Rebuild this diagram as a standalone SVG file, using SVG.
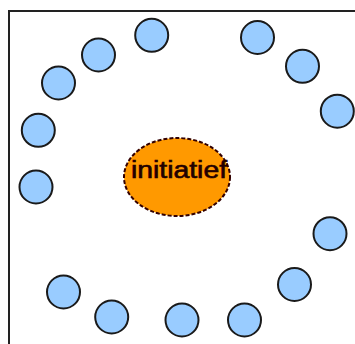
<svg xmlns="http://www.w3.org/2000/svg" width="355" height="344" viewBox="0 0 355 344">
<style>
.n{fill:#99CCFF;stroke:#1a1a1a;stroke-width:2}
.frame{fill:none;stroke:#222;stroke-width:2}
.c{fill:#FF9900;stroke:#330000;stroke-width:2;stroke-dasharray:4 2}
.t{font-family:"Liberation Sans",Arial,sans-serif;font-size:23px;fill:#220000;stroke:#220000;stroke-width:0.6}
</style>
<rect width="355" height="344" fill="#ffffff"/>
<rect class="frame" x="9" y="11" width="360" height="350"/>
<g id="connectors"></g>
<g id="center"><ellipse class="c" cx="177" cy="177" rx="53" ry="39"/><text class="t" x="179" y="178" text-anchor="middle" textLength="96" lengthAdjust="spacingAndGlyphs">initiatief</text></g>
<g id="n1"><circle class="n" cx="151.7" cy="35.3" r="16.5"/></g>
<g id="n2"><circle class="n" cx="98.5" cy="55" r="16.5"/></g>
<g id="n3"><circle class="n" cx="58.5" cy="83" r="16.5"/></g>
<g id="n4"><circle class="n" cx="38.3" cy="130.3" r="16.5"/></g>
<g id="n5"><circle class="n" cx="36" cy="187" r="16.5"/></g>
<g id="n6"><circle class="n" cx="63.5" cy="292" r="16.5"/></g>
<g id="n7"><circle class="n" cx="111.7" cy="317" r="16.5"/></g>
<g id="n8"><circle class="n" cx="182" cy="320" r="16.5"/></g>
<g id="n9"><circle class="n" cx="244.5" cy="320" r="16.5"/></g>
<g id="n10"><circle class="n" cx="294.5" cy="284.5" r="16.5"/></g>
<g id="n11"><circle class="n" cx="330" cy="233.7" r="16.5"/></g>
<g id="n12"><circle class="n" cx="337.3" cy="111.2" r="16.5"/></g>
<g id="n13"><circle class="n" cx="302.5" cy="66.3" r="16.5"/></g>
<g id="n14"><circle class="n" cx="257.5" cy="37.5" r="16.5"/></g>
</svg>
